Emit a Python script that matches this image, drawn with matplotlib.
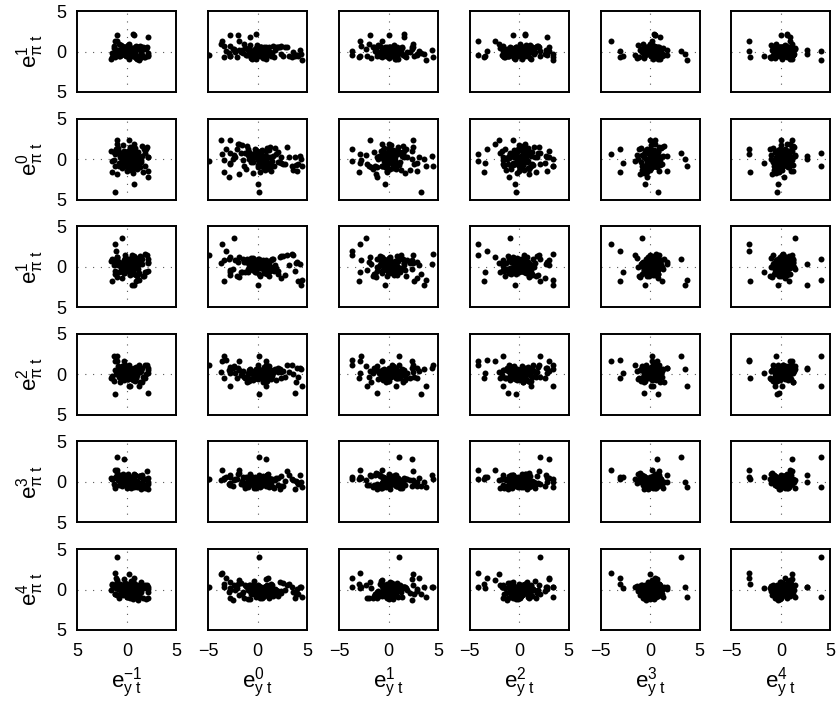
import matplotlib
matplotlib.use("Agg")
import matplotlib.pyplot as plt

# ---------------------------------------------------------------------------
# data: one value per observation t, read off the scatter matrix
# first 30 entries = the stray points, the rest = the dense core
# ---------------------------------------------------------------------------

# output-gap forecast errors e_y^k (one per column)
ey_m1 = [-1.25, -1.1, -0.8, -1.5, -1.0, 0.5, 1.2, -0.5, -1.25, 0.75, -1.0, 0.75, 2.1, 2.15, 2.15,
         2.0, 0.25, -0.2, 0.9, -0.5, 2.15, 0.2, -0.3, 1.5, 0.75, -1.35, 1.8, -1.0, 0.6, 0.3,
         -0.6, 0.3, 1.1, -0.2, 0.8, -1.2, 0.5, 1.6, -0.9, 0.1, 0.7, -0.4, 1.3, 0.0, -1.5, 0.9, 0.4, -0.7, 1.9, 0.2,
         -0.3, 1.0, -1.0, 0.6, 1.4, -0.1, 0.3, -0.8, 1.2, 0.5, -1.3, 0.8, 0.1, 1.7, -0.5, 0.4, -0.2, 1.5, 0.7, -0.6,
         0.0, 1.1, -1.1, 0.3, 0.9, -0.4, 1.8, 0.2, -0.9, 0.6, 1.3, -0.2, 0.5, -1.6, 1.0, 0.1, -0.7, 0.8, 1.4, -0.3,
         0.2, -0.3, 0.5, 0.0, 0.8, -0.5, 0.3, 0.1, -0.1, 0.6, 0.4, -0.4, 0.9, 0.2, -0.2, 0.7, 0.0, 0.3, -0.6, 0.5,
         1.0, -0.1, 0.4, 0.1, -0.3, 0.6, 0.2, 0.8, -0.2, 0.3]
ey_0 = [-3.6, -3.2, -2.75, -3.4, 0.1, 4.35, 4.45, -2.4, 0.1, 0.0, -2.75, -2.0, -0.75, -2.9, 4.0,
        3.0, -3.75, -4.9, 4.1, 2.35, 3.75, 0.85, 0.85, 4.25, 1.0, -3.4, 3.5, -1.9, -0.2, -2.75,
        0.4, -1.2, 2.1, -0.5, 0.9, 1.6, -2.3, 0.2, 1.1, -0.8, 2.6, -1.6, 0.5, -0.2, 1.4, -2.8, 0.7, 3.2, -1.0, 0.0,
        1.8, -0.6, -1.9, 0.3, 2.3, -0.3, 1.2, -1.4, 0.8, 3.6, -0.9, 0.1, 1.5, -2.1, 0.6, -0.4, 2.0, -1.1, 0.9, -0.1,
        1.3, -2.5, 0.4, 2.8, -0.7, 1.0, -1.3, 0.2, 1.7, -0.5, 2.4, -1.7, 0.6, -0.2, 1.1, -0.8, 3.9, 0.3, -1.5, 0.8,
        -0.4, 0.6, 0.1, -0.9, 1.0, 0.3, -0.2, 0.8, -0.6, 0.4, 1.2, -0.1, 0.0, 0.7, -1.0, 0.2, 0.5, -0.3, 0.9, -0.7,
        0.1, 1.3, -0.5, 0.3, 0.6, -0.8, 0.0, 0.4, -0.2, 1.1]
ey_1 = [-2.9, -3.65, -2.9, -3.0, 1.1, 3.6, 3.75, -2.3, 3.25, -0.4, -1.9, 0.1, 1.6, -1.15, 2.85,
        2.45, 2.45, -3.65, 2.6, 2.85, -1.15, 0.75, 2.35, 4.35, 3.1, -2.8, 4.45, -0.65, 1.6, -2.15,
        -0.3, 0.8, -1.5, 1.2, 0.1, -0.7, 1.9, -0.2, 0.5, -1.1, 0.9, 0.3, -1.8, 1.4, -0.5, 0.6, 2.2, -0.9, 0.0, 1.1,
        -0.4, 0.7, -1.3, 1.6, 0.2, -0.6, 1.0, -2.0, 0.4, 1.3, -0.1, 0.8, -1.0, 1.8, 0.5, -0.8, 0.2, 1.5, -1.4, 0.6,
        -0.2, 2.4, -0.6, 0.9, 0.1, -1.2, 1.2, 0.3, -0.5, 1.7, -0.9, 0.4, 0.0, 1.0, -1.6, 0.7, -0.3, 1.4, 0.2, -0.7,
        0.3, -0.2, 0.6, 0.0, -0.7, 0.4, 0.9, -0.4, 0.1, 0.5, -0.1, 0.8, -0.5, 0.2, 0.6, -0.3, 1.0, 0.0, -0.6, 0.3,
        0.7, -0.2, 0.4, -0.8, 0.1, 0.5, -0.4, 0.2, 0.9, -0.1]
ey_2 = [-4.15, -3.3, -3.45, -3.55, 2.05, 3.45, 3.45, -0.9, -0.3, -0.4, -0.65, 0.55, 2.8, -1.05, 2.8,
        1.95, -2.05, -4.15, 2.05, 2.6, -1.15, 1.2, 2.95, 2.7, 2.95, -1.65, 3.45, -2.45, 0.55, -1.65,
        0.5, -0.8, 1.3, -0.2, 0.9, -1.5, 0.2, 1.7, -0.5, 0.7, -1.1, 0.0, 1.1, -0.7, 0.4, 1.9, -1.3, 0.6, -0.1, 1.4,
        -0.9, 0.3, 1.0, -1.7, 0.8, -0.4, 1.5, 0.1, -1.0, 0.5, 1.2, -0.6, 0.2, -1.4, 0.9, 1.6, -0.3, 0.4, -0.8, 1.1,
        0.0, -1.2, 0.7, 1.3, -0.5, 0.3, -1.9, 0.9, 0.2, -0.2, 1.8, -0.9, 0.6, -0.4, 1.0, -1.6, 0.4, 0.8, -0.1, 1.2,
        -0.1, 0.4, -0.5, 0.7, 0.2, -0.3, 0.5, 0.0, 0.9, -0.6, 0.3, -0.2, 0.6, 0.1, -0.8, 0.4, -0.4, 0.8, 0.2, -0.1,
        0.5, 0.0, -0.5, 0.3, 0.7, -0.3, 0.1, 0.6, -0.7, 0.2]
ey_3 = [-3.9, -3.0, -2.7, -3.0, 3.1, 3.5, 3.7, -0.8, 0.8, -0.5, 0.45, 0.5, 1.0, -0.3, 1.7,
        0.9, 0.0, -1.5, 1.2, 0.8, -0.65, 0.3, 0.7, 1.7, 0.5, 0.2, 0.6, 0.2, 0.4, 0.1,
        0.2, -0.5, 0.8, 0.0, -0.9, 0.5, 1.1, -0.3, 0.4, -1.2, 0.7, 0.1, -0.6, 1.3, -0.1, 0.3, -0.8, 0.9, 0.0, -0.4,
        0.6, 1.0, -1.0, 0.2, -0.2, 0.5, 1.2, -0.7, 0.3, 0.0, -0.5, 0.8, 0.4, -1.1, 0.1, 0.6, -0.3, 1.4, -0.8, 0.2,
        0.9, -0.4, 0.0, 0.5, -1.3, 0.7, 0.3, -0.2, 1.1, -0.6, 0.4, 0.1, -0.9, 0.8, -0.1, 0.6, 1.0, -0.5, 0.2, 0.0,
        0.1, 0.4, -0.2, 0.6, 0.0, 0.3, -0.4, 0.5, 0.2, -0.1, 0.7, 0.0, 0.3, -0.5, 0.4, 0.1, 0.6, -0.3, 0.2, 0.5,
        -0.1, 0.3, 0.8, -0.2, 0.0, 0.4, 0.2, -0.6, 0.5, 0.1]
ey_4 = [-3.25, -3.25, -1.7, -3.1, 4.0, 2.65, 4.1, 1.4, -0.4, -0.3, 0.0, 0.65, 0.9, 0.3, 1.2,
        1.15, 1.15, -0.8, 0.8, 0.4, -0.2, 0.1, 1.15, 2.65, 0.4, -0.5, 0.2, 0.9, 0.65, -0.6,
        0.3, -0.4, 0.9, 0.1, -0.8, 0.6, 1.2, -0.2, 0.5, -1.0, 0.8, 0.0, -0.6, 1.4, 0.2, 0.4, -0.7, 1.0, -0.1, -0.3,
        0.7, 1.1, -0.9, 0.3, -0.1, 0.6, 1.3, -0.5, 0.2, 0.1, -0.4, 0.9, 0.5, -1.1, 0.0, 0.7, -0.2, 1.2, -0.7, 0.4,
        1.0, -0.3, 0.1, 0.6, -1.0, 0.8, 0.4, -0.1, 1.1, -0.5, 0.3, 0.2, -0.8, 0.9, 0.0, 0.5, 1.2, -0.6, 0.3, 0.1,
        0.2, 0.5, -0.1, 0.3, 0.7, 0.0, -0.3, 0.4, 0.1, 0.6, -0.2, 0.3, 0.5, -0.4, 0.2, 0.8, 0.0, 0.4, -0.1, 0.3,
        0.6, 0.1, -0.5, 0.5, 0.2, -0.2, 0.7, 0.0, 0.4, 0.3]

# inflation forecast errors e_pi^k (one per row)
epi_a = [1.3, 0.1, -0.6, -0.65, 0.05, -0.3, -1.1, 0.3, -0.2, 0.4, 2.0, 2.0, 1.8, -0.2, -0.4,
         0.5, 0.9, -0.4, -0.6, -0.3, -0.6, -0.9, 0.6, 0.2, 0.1, 0.7, -0.7, 1.3, 2.1, -0.5,
         0.1, -0.4, 0.6, -0.1, 0.3, -0.7, 0.0, 0.5, -0.3, 0.8, -0.5, 0.2, -0.8, 0.4, -0.2, 0.7, 0.0, -0.6, 0.3, -0.1,
         0.5, -0.9, 0.2, -0.4, 0.6, 0.1, -0.3, 0.9, -0.5, 0.0, 0.4, -0.2, 0.7, -0.7, 0.2, -0.1, 0.5, -0.4, 0.1, 0.8,
         -0.6, 0.3, -0.2, 0.6, -0.8, 0.0, 0.4, -0.3, 0.2, -0.5, 0.7, -0.1, 0.3, -0.9, 0.5, 0.1, -0.4, 0.6, -0.2, 0.0,
         -0.2, 0.3, 0.0, -0.4, 0.2, 0.5, -0.1, 0.1, -0.5, 0.3, 0.0, -0.3, 0.4, -0.1, 0.2, -0.6, 0.1, 0.3, -0.2, 0.0,
         0.4, -0.4, 0.1, -0.1, 0.5, 0.2, -0.3, 0.0, 0.3, -0.2]
epi_0 = [0.65, 1.2, -0.5, -1.55, 0.7, 0.0, -0.85, 0.5, -4.0, -3.1, 2.3, 1.9, 0.3, -2.2, -1.5,
         1.5, 2.3, -0.25, -0.65, -0.5, 0.2, -0.8, 1.0, 0.4, 0.3, -0.1, -0.85, 1.9, 0.4, -0.6,
         0.5, -1.2, 0.9, -0.3, 1.4, -0.8, 0.2, -1.6, 1.1, 0.0, -0.6, 1.7, -1.0, 0.4, -0.2, 0.8, -1.4, 0.3, 1.2, -0.7,
         0.6, -0.1, -1.8, 1.0, -0.4, 0.7, 1.5, -0.9, 0.1, -1.3, 0.9, -0.5, 0.4, 1.3, -1.1, 0.2, -0.3, 1.6, -0.8, 0.6,
         -1.5, 0.0, 1.1, -0.6, 0.5, -1.0, 0.8, -0.2, 1.4, -1.7, 0.3, 0.7, -0.4, 1.0, -1.2, 0.2, -0.7, 0.9, -0.1, 0.4,
         0.3, -0.5, 0.8, 0.0, -0.9, 0.4, 1.1, -0.3, 0.6, -0.7, 0.2, 0.9, -0.1, -1.2, 0.5, 0.0, -0.6, 1.3, 0.1, -0.4,
         0.7, -0.8, 0.3, 1.0, -0.2, 0.5, -1.0, 0.2, 0.6, -0.5]
epi_1 = [2.75, 1.9, -0.6, -1.8, 0.9, -2.2, -1.6, 3.6, -0.9, -2.25, 1.2, 0.6, 0.4, 1.0, 0.6,
         1.4, 0.5, 1.5, -1.8, -1.35, -0.5, -0.4, 0.8, 0.3, 0.2, 0.8, 1.6, 1.2, 0.2, -0.4,
         -0.2, 0.6, -0.9, 1.1, 0.1, -0.5, 0.8, -1.2, 0.4, 0.0, 1.3, -0.7, 0.3, -0.3, 0.9, -1.0, 0.5, 0.2, -0.6, 1.0,
         -0.1, 0.7, -1.3, 0.4, 1.2, -0.4, 0.0, 0.6, -0.8, 1.5, 0.2, -0.2, 0.9, -1.1, 0.3, 0.5, -0.5, 1.0, -0.9, 0.1,
         0.8, -0.3, 0.4, -1.0, 1.1, 0.0, -0.7, 0.6, 0.2, -0.4, 1.3, -0.6, 0.3, 0.7, -1.2, 0.1, 0.5, -0.1, 0.9, -0.8,
         0.1, -0.4, 0.5, -0.2, 0.3, 0.0, -0.6, 0.7, -0.1, 0.4, -0.5, 0.2, 0.0, 0.6, -0.3, 0.1, 0.8, -0.7, 0.3, -0.1,
         0.5, 0.0, -0.4, 0.2, -0.8, 0.4, 0.1, -0.2, 0.6, -0.5]
epi_2 = [1.7, 1.8, 0.15, -0.5, 2.3, 0.65, -1.4, 1.0, -2.4, -0.6, 0.4, 0.8, 0.2, 0.5, 0.75,
         1.2, 0.3, 1.2, -0.3, -0.5, -2.3, -1.5, 1.6, 0.75, 0.4, 2.3, 1.2, 1.6, 0.5, -1.4,
         0.3, -0.5, 0.8, 0.0, -0.8, 0.5, 0.2, -0.3, 1.0, -0.6, 0.4, 0.1, -0.9, 0.6, -0.2, 0.9, -0.4, 0.3, 0.0, 1.2,
         -0.7, 0.2, 0.5, -0.1, 0.7, -0.5, 0.4, -0.3, 1.1, 0.0, -0.8, 0.6, 0.1, -0.4, 0.9, -0.2, 0.3, -1.0, 0.5, 0.2,
         -0.6, 0.8, 0.0, -0.3, 0.4, 1.0, -0.5, 0.1, 0.6, -0.7, 0.3, -0.1, 0.7, -0.4, 0.2, 0.5, -0.9, 0.0, 0.4, -0.2,
         -0.3, 0.2, 0.0, 0.5, -0.4, 0.1, 0.3, -0.6, 0.4, 0.0, -0.2, 0.6, -0.5, 0.2, 0.1, -0.3, 0.4, 0.0, -0.7, 0.3,
         -0.1, 0.5, 0.2, -0.4, 0.0, 0.7, -0.2, 0.1, -0.5, 0.3]
epi_3 = [1.5, 0.6, 0.6, 0.3, 3.05, 0.0, -0.64, 0.2, -0.5, -0.3, 0.8, 1.0, 0.5, -0.2, 0.0,
         1.4, 0.2, 0.3, -0.3, -0.45, -0.9, -0.5, 2.85, 0.9, 0.5, 0.5, 0.4, 1.5, 0.3, -0.4,
         0.2, 0.6, -0.4, 0.0, 0.9, -0.7, 0.3, -0.2, 0.5, 1.0, -0.5, 0.1, 0.7, -0.8, 0.4, -0.1, 0.2, 0.8, -0.6, 0.0,
         0.5, -0.3, 1.1, 0.3, -0.9, 0.6, 0.0, -0.4, 0.7, 0.2, -0.2, 0.9, -0.6, 0.4, 0.1, -0.7, 0.5, 0.0, 0.8, -0.3,
         0.3, -0.5, 0.6, 0.1, -0.1, 1.0, -0.8, 0.4, 0.2, -0.4, 0.7, -0.2, 0.0, 0.5, -0.6, 0.9, 0.1, -0.3, 0.6, -0.1,
         0.0, -0.3, 0.2, 0.4, -0.1, 0.3, -0.5, 0.1, 0.6, -0.2, 0.0, 0.3, -0.4, 0.5, 0.1, -0.6, 0.2, 0.0, 0.4, -0.3,
         0.1, -0.1, 0.5, -0.5, 0.2, 0.3, -0.2, 0.0, 0.4, -0.4]
epi_4 = [2.0, 1.45, 0.15, 0.65, 4.05, 0.35, -0.9, 0.5, -0.6, -0.8, 0.9, 0.7, 0.3, -0.3, 0.1,
         0.6, 1.9, 0.35, -0.5, -0.2, -1.0, -0.7, 1.3, 0.35, 1.45, 0.3, 0.35, 1.2, 0.2, -1.0,
         -0.3, 0.4, -0.8, 0.1, 0.6, -0.5, 0.0, -1.1, 0.3, -0.2, 0.8, -0.6, 0.2, -0.9, 0.5, 0.0, -0.4, 0.7, -1.2, 0.1,
         -0.1, 0.5, -0.7, 0.3, 0.9, -0.4, 0.0, -1.0, 0.4, -0.3, 0.6, 0.1, -0.8, 0.2, -0.5, 1.0, -0.2, 0.3, -0.6, 0.0,
         0.7, -1.3, 0.2, -0.1, 0.4, -0.7, 0.5, -0.9, 0.1, 0.3, -0.4, 0.8, -0.2, 0.0, -1.0, 0.6, -0.5, 0.2, -0.3, 0.4,
         -0.5, 0.1, -0.2, 0.3, -0.8, 0.0, 0.4, -0.4, 0.2, -1.0, 0.1, -0.3, 0.5, -0.6, 0.0, 0.2, -0.9, 0.3, -0.1, -0.5,
         0.4, -0.2, 0.0, -0.7, 0.3, -1.2, 0.1, -0.4, 0.2, -0.6]

col_sup = ["-1", "0", "1", "2", "3", "4"]
row_sup = ["1", "0", "1", "2", "3", "4"]
x_series = [ey_m1, ey_0, ey_1, ey_2, ey_3, ey_4]
y_series = [epi_a, epi_0, epi_1, epi_2, epi_3, epi_4]

lens = {len(s) for s in x_series + y_series}
if len(lens) != 1:
    raise ValueError(f"series lengths differ: {[len(s) for s in x_series + y_series]}")

# ---------------------------------------------------------------------------
# style
# ---------------------------------------------------------------------------
plt.rcParams.update({
    "font.family": ["Liberation Sans", "DejaVu Sans"],
    "mathtext.fontset": "custom",
    "mathtext.rm": "Liberation Sans",
    "mathtext.it": "Liberation Sans",
    "mathtext.default": "regular",
})

W, H = 836, 702
fig = plt.figure(figsize=(W / 100, H / 100), dpi=100)

ax_w, ax_h = 99, 81
left0, dx = 77.4, 130.8
top0, dy = 11, 107.6

for i, ys in enumerate(y_series):
    for j, xs in enumerate(x_series):
        left = left0 + j * dx
        top = top0 + i * dy
        ax = fig.add_axes([left / W, 1 - (top + ax_h) / H, ax_w / W, ax_h / H])
        ax.axhline(0, color="0.35", lw=0.8, ls=(0, (1, 6)), zorder=1)
        ax.axvline(0, color="0.35", lw=0.8, ls=(0, (1, 6)), zorder=1)
        ax.plot(xs, ys, "o", color="black", ms=4.3, mew=0, zorder=2)
        ax.set_xlim(-5, 5)
        ax.set_ylim(-5, 5)
        for sp in ax.spines.values():
            sp.set_linewidth(1.4)
        ax.tick_params(length=0, labelsize=13)
        ax.set_xticks([-5, 0, 5])
        ax.set_yticks([-5, 0, 5])
        if j == 0:
            ax.set_yticklabels(["5", "0", "5"])
            ax.tick_params(axis="y", pad=8)
        else:
            ax.set_yticklabels([])
        if i == len(y_series) - 1:
            ax.set_xticklabels(["5", "0", "5"] if j == 0 else ["\u22125", "0", "5"])
            ax.tick_params(axis="x", pad=9)
            fig.text((left + ax_w / 2) / W, 1 - 683 / H,
                     rf"$e^{{{col_sup[j]}}}_{{y\ t}}$", ha="center", va="center",
                     fontsize=16)
        else:
            ax.set_xticklabels([])
    fig.text(30 / W, 1 - (top0 + i * dy + ax_h / 2) / H,
             rf"$e^{{{row_sup[i]}}}_{{\pi\ t}}$", ha="center", va="center",
             rotation=90, fontsize=16)

fig.savefig("out.png", dpi=100, facecolor="white")
